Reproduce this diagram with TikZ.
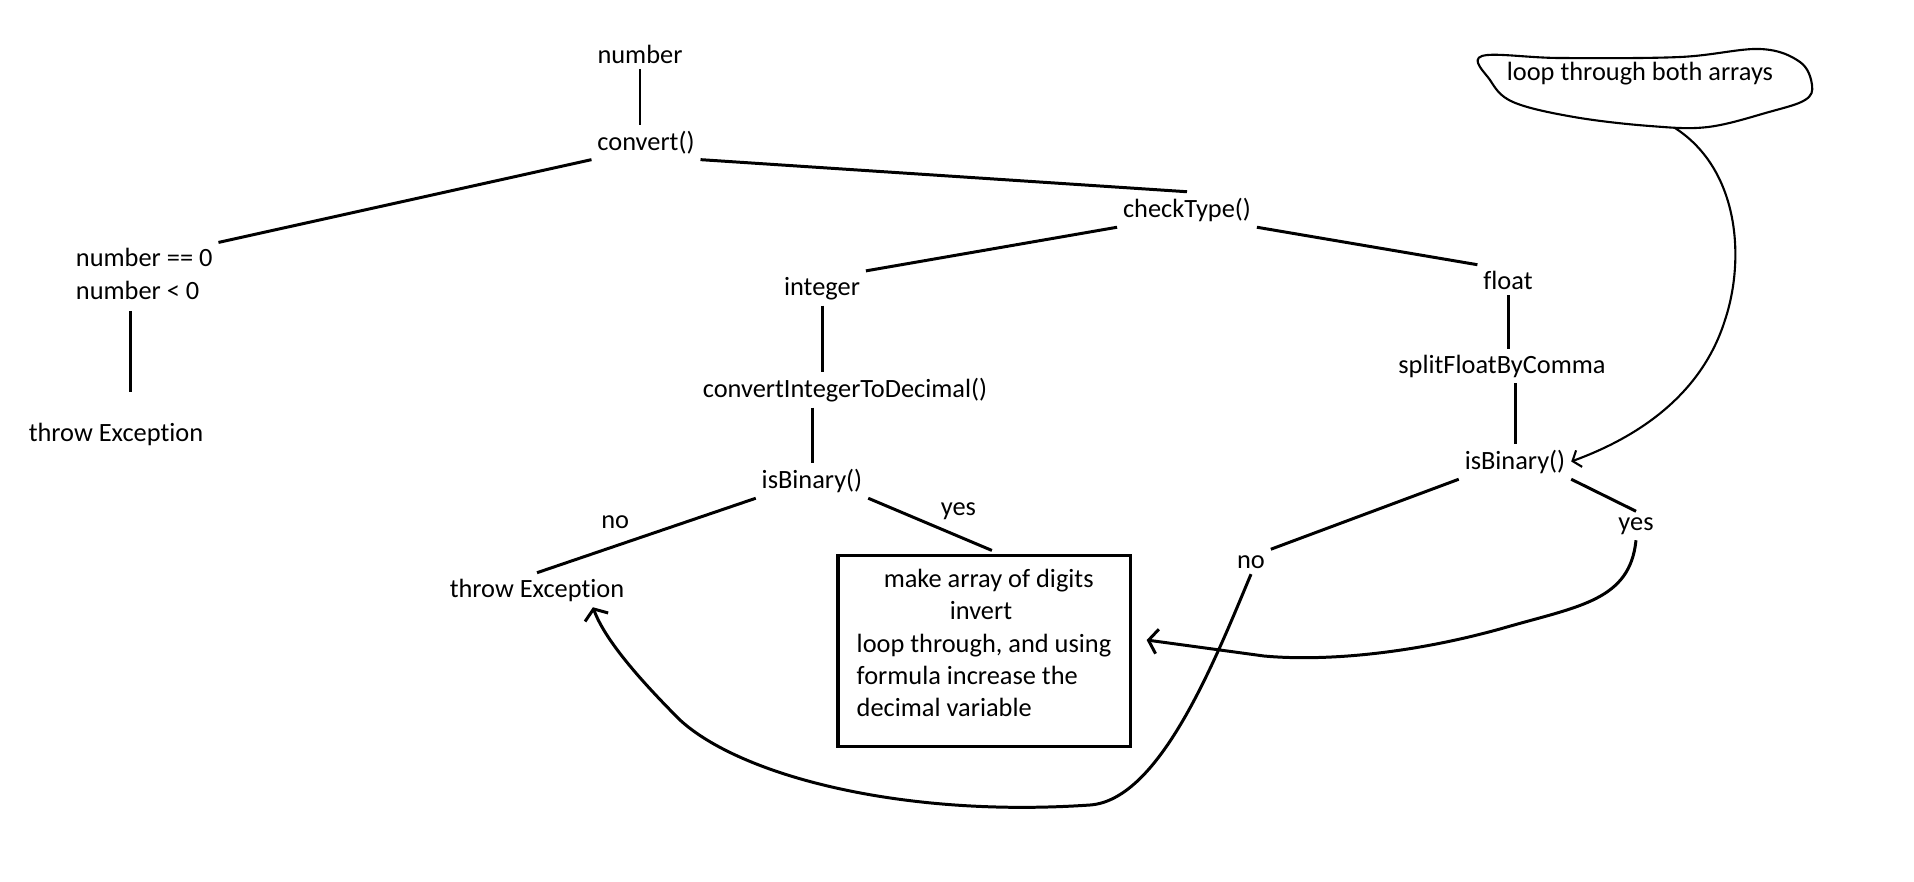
\documentclass[tikz,border=0pt]{standalone}
\usepackage{fontspec}
\setmainfont{Carlito}[Ligatures=NoCommon]
\usepackage{tikz}
\usetikzlibrary{arrows.meta, calc}

\begin{document}
\begin{tikzpicture}[
    x=0.01cm, y=-0.01cm,
    word/.style={font=\fontsize{7.5}{9.3}\selectfont, inner sep=1.5pt, anchor=base},
    block/.style={rectangle, draw=black, line width=0.9pt, align=left,
                  minimum width=2.92cm, minimum height=1.91cm, text depth=4.5pt,
                  font=\fontsize{7.5}{9.2}\selectfont, inner sep=0pt},
    tie/.style={draw, line width=0.85pt},
    hint/.style={draw, semithick},
    jump/.style={draw, line width=0.85pt, -{Straight Barb[length=2.5pt,width=7pt]}}
]
\useasboundingbox (0,0) rectangle (1914,881);

% tree of calls
\node[word] (number) at (640,63) {number};
\node[word] (convert) at (646,150) {convert()};
\node[word, anchor=west, align=left] (guard) at (70,274) {number == 0\\number < 0};
\node[word] (throwA) at (116,441) {throw Exception};
\node[word] (check) at (1187,217) {checkType()};
\node[word] (integer) at (822,295) {integer};
\node[word] (float) at (1508,289) {float};
\node[word] (toDec) at (845,397) {convertIntegerToDecimal()};
\node[word] (split) at (1502,373) {splitFloatByComma};
\node[word] (binA) at (812,488) {isBinary()};
\node[word] (binB) at (1515,469) {isBinary()};
\node[word] (throwB) at (537,597) {throw Exception};
\node[word] (noB) at (1251,568) {no};
\node[word] (yesB) at (1636,530) {yes};
\node[block] (digits) at (984,651) {\hspace*{2.7mm}make array of digits\\
    \hspace*{9.3mm}invert\\loop through, and using\\formula increase the\\decimal variable};
\node[word] (loop) at (1640,80) {loop through both arrays};

\draw[tie] (number.south) -- (number.south |- convert.north);
\draw[tie] (convert.south west) -- (guard.north east);
\draw[tie] (convert.south east) -- (check.north);
\draw[tie, shorten <=1.5pt, shorten >=7pt] ([xshift=-4pt]guard.south)
    -- ([xshift=-4pt]guard.south |- throwA.north);
\draw[tie] (check.south west) -- (integer.north east);
\draw[tie] (check.south east) -- (float.north west);
\draw[tie] (integer.south) -- (integer.south |- toDec.north);
\draw[tie] (binA.north |- toDec.south) -- (binA.north);
\draw[tie] (binA.south west)
    -- node[word, above left, pos=0.5, xshift=-3pt] (noA) {no} (throwB.north);
\draw[tie, shorten >=2.5pt] (binA.south east)
    -- node[word, above right, pos=0.5] (yesA) {yes} ($(digits.north)+(16,0)$);
\draw[tie] (float.south) -- (float.south |- split.north);
\draw[tie] (binB.north |- split.south) -- (binB.north);
\draw[tie] (binB.south west) -- (noB.north east);
\draw[tie] (binB.south east) -- (yesB.north);

% jumps
\draw[jump] (yesB.south) .. controls (1630,600) and (1580,606) .. (1507,627)
    .. controls (1420,652) and (1330,662) .. (1264,656) -- ($(digits.east)+(15,-11)$);
\draw[jump] (noB.south) .. controls (1215,660) and (1160,800) .. (1090,805)
    .. controls (900,818) and (740,775) .. (680,720)
    .. controls (640,680) and (605,640) .. ($(throwB.south)!0.6!(throwB.south east)$);

% note around the loop
\draw[hint] plot[smooth cycle, tension=0.6] coordinates {(1482,56) (1560,58) (1680,57)
    (1760,49) (1800,62) (1812,85) (1805,100) (1769,112) (1708,127) (1650,126)
    (1574,117) (1513,102) (1490,80)};
\coordinate (loopTail) at (1675,128);
\draw[hint, -{Straight Barb[length=2pt,width=5pt]}] (loopTail)
    .. controls (1740,170) and (1745,260) .. (1725,320)
    .. controls (1700,400) and (1630,440) .. (binB.east);
\end{tikzpicture}
\end{document}
